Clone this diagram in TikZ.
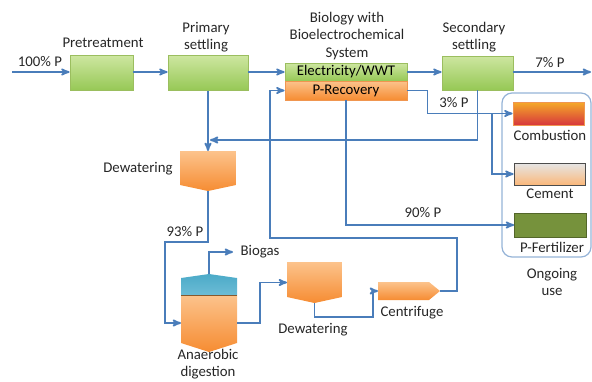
\documentclass[tikz,border=0pt]{standalone}
\usepackage{fontspec}
\setmainfont{Carlito}
\usetikzlibrary{arrows,positioning}

\definecolor{flow}{RGB}{74,125,186}
\definecolor{gtop}{RGB}{205,230,160}
\definecolor{gbot}{RGB}{150,200,85}
\definecolor{gline}{RGB}{155,190,95}
\definecolor{otop}{RGB}{252,195,140}
\definecolor{obot}{RGB}{246,140,50}
\definecolor{oline}{RGB}{240,150,80}
\definecolor{ctop}{RGB}{75,170,200}
\definecolor{cbot}{RGB}{200,238,250}
\definecolor{ubox}{RGB}{149,179,215}
\definecolor{ftop}{RGB}{245,170,40}
\definecolor{fbot}{RGB}{215,55,60}
\definecolor{olive}{RGB}{118,146,60}

\begin{document}
\begin{tikzpicture}[->,>=stealth',x=1pt,y=-1pt,
                    font=\fontsize{14.8}{17.5}\selectfont]
	\tikzstyle{box}=[draw=gline,line width=0.8pt,top color=gtop,bottom color=gbot,
	                 minimum width=63pt,minimum height=35pt,inner sep=0pt]
	\tikzstyle{obox}=[box,draw=oline,top color=otop,bottom color=obot]
	\tikzstyle{usebox}=[draw=ubox,line width=1.2pt,rounded corners=10pt,
	                    minimum width=89pt,minimum height=164pt]
	\tikzstyle{tank}=[minimum width=56pt,minimum height=40pt,inner sep=0pt,outer sep=0pt,
	  path picture={\shade[top color=otop,bottom color=obot]
	    (path picture bounding box.north west) -- (path picture bounding box.north east)
	    -- ([yshift=6pt]path picture bounding box.south east) -- (path picture bounding box.south)
	    -- ([yshift=6pt]path picture bounding box.south west) -- cycle;}]
	\tikzstyle{digester}=[minimum width=56pt,minimum height=78pt,inner sep=0pt,outer sep=0pt,
	  path picture={\shade[top color=ctop,bottom color=cbot]
	    ([yshift=-4pt]path picture bounding box.north west) -- (path picture bounding box.north)
	    -- ([yshift=-4pt]path picture bounding box.north east)
	    -- ([yshift=-21pt]path picture bounding box.north east)
	    -- ([yshift=-21pt]path picture bounding box.north west) -- cycle;
	   \shade[top color=otop,bottom color=obot]
	    ([yshift=-21pt]path picture bounding box.north west)
	    -- ([yshift=-21pt]path picture bounding box.north east)
	    -- ([yshift=9pt]path picture bounding box.south east) -- (path picture bounding box.south)
	    -- ([yshift=9pt]path picture bounding box.south west) -- cycle;
	   \draw[-,draw=brown!70!black,line width=0.6pt]
	    ([yshift=-21pt]path picture bounding box.north west)
	    -- ([yshift=-21pt]path picture bounding box.north east);}]
	\tikzstyle{spinner}=[minimum width=62pt,minimum height=18pt,inner sep=0pt,outer sep=0pt,
	  path picture={\shade[top color=otop,bottom color=obot]
	    (path picture bounding box.north west)
	    -- ([xshift=-11pt]path picture bounding box.north east) -- (path picture bounding box.east)
	    -- ([xshift=-11pt]path picture bounding box.south east)
	    -- (path picture bounding box.south west) -- cycle;}]
	\tikzstyle{wire}=[draw=flow,line width=1.8pt]
	\tikzstyle{lbl}=[align=center,inner sep=0pt,text=black!85]

	\useasboundingbox (0,0) rectangle (592,381);

	% ongoing use frame
	\node[usebox] (use) at (546.5,175) {};

	% main line
	\node[box]                                        (pre)  at (101.5,73)   {};
	\node[box,minimum width=80pt]                     (prim) at (208,73)     {};
	\node[box,minimum width=122pt,minimum height=18pt] (elec) at (346,72)    {Electricity/WWT};
	\node[obox,minimum width=122pt,minimum height=19pt] (prec) at (346,90.5) {P-Recovery};
	\node[box,minimum width=71pt,minimum height=34pt] (sec)  at (477.5,73)   {};

	% uses
	\node[draw=oline,line width=0.8pt,top color=ftop,bottom color=fbot,
	      minimum width=71pt,minimum height=23pt] (comb) at (548.5,113.5) {};
	\node[draw=gray!60!black,line width=0.8pt,top color=gray!20,bottom color=otop!80!obot,
	      minimum width=71pt,minimum height=22pt] (cem)  at (549.5,174) {};
	\node[draw=olive!70!black,line width=0.8pt,fill=olive,
	      minimum width=72pt,minimum height=24pt] (fert) at (550.5,225) {};

	% sludge line
	\node[tank]     (dw1) at (208,171)   {};
	\node[digester] (ad)  at (209,313)   {};
	\node[tank,minimum width=55pt,minimum height=41pt] (dw2) at (314.5,282.5) {};
	\node[spinner]  (cf)  at (409,291)   {};

	% labels
	\node[lbl] (l100)  at (40,62)   {100\% P};
	\node[lbl] (lpre)  at (103,43)  {Pretreatment};
	\node[lbl] (lprim) at (206,37)  {Primary\\settling};
	\node[lbl] (lbes)  at (347,36)  {Biology with\\Bioelectrochemical\\System};
	\node[lbl] (lsec)  at (474,37)  {Secondary\\settling};
	\node[lbl] (l7)    at (550,63)  {7\% P};
	\node[lbl] (l3)    at (454,103) {3\% P};
	\node[lbl] (l90)   at (423,213) {90\% P};
	\node[lbl] (l93)   at (185,232) {93\% P};
	\node[lbl] (ldw1)  at (138,169) {Dewatering};
	\node[lbl] (lcomb) at (550,135) {Combustion};
	\node[lbl] (lcem)  at (550,194) {Cement};
	\node[lbl] (lfert) at (552,247) {P-Fertilizer};
	\node[lbl] (luse)  at (552,282) {Ongoing\\use};
	\node[lbl] (lgas)  at (260,252) {Biogas};
	\node[lbl] (ldw2)  at (313,330) {Dewatering};
	\node[lbl] (lcf)   at (412,313) {Centrifuge};
	\node[lbl] (lad)   at (208,364) {Anaerobic\\digestion};

	% flows
	\coordinate (in)    at (12,72);
	\coordinate (out)   at (591,72);
	\coordinate (split) at (492,113.5);
	\coordinate (back)  at (210,140);
	\coordinate (j93)   at (165,242);
	\coordinate (gas)   at (233,252);
	\coordinate (jcf)   at (373,317);
	\coordinate (jret)  at (270,238);

	\draw[wire] (in) -- (in -| pre.west);
	\draw[wire] (pre.east |- in) -- (in -| prim.west);
	\draw[wire] (prim.east |- elec) -- (elec.west);
	\draw[wire] (elec.east) -- (elec.east -| sec.west);
	\draw[wire] (sec.east |- out) -- (out);
	\draw[wire] (prec.east) -- ++(20,0) |- (comb.west);
	\draw[wire] (split) |- (cem.west);
	\draw[wire] (sec.south) |- (back);
	\draw[wire] (prim.south) -- (prim.south |- dw1.north);
	\draw[wire] (prec.south) |- (fert.west);
	\draw[wire] (dw1.south) |- (j93) |- ([yshift=-10pt]ad.west);
	\draw[wire] (ad.north) |- (gas);
	\draw[wire] ([yshift=-10pt]ad.east) -- ++(23,0) |- (dw2.west);
	\draw[wire] (dw2.south) |- (jcf) |- (cf.west);
	\draw[wire] (cf.east) -- ++(17,0) |- (jret) |- (prec.west);
\end{tikzpicture}
\end{document}
